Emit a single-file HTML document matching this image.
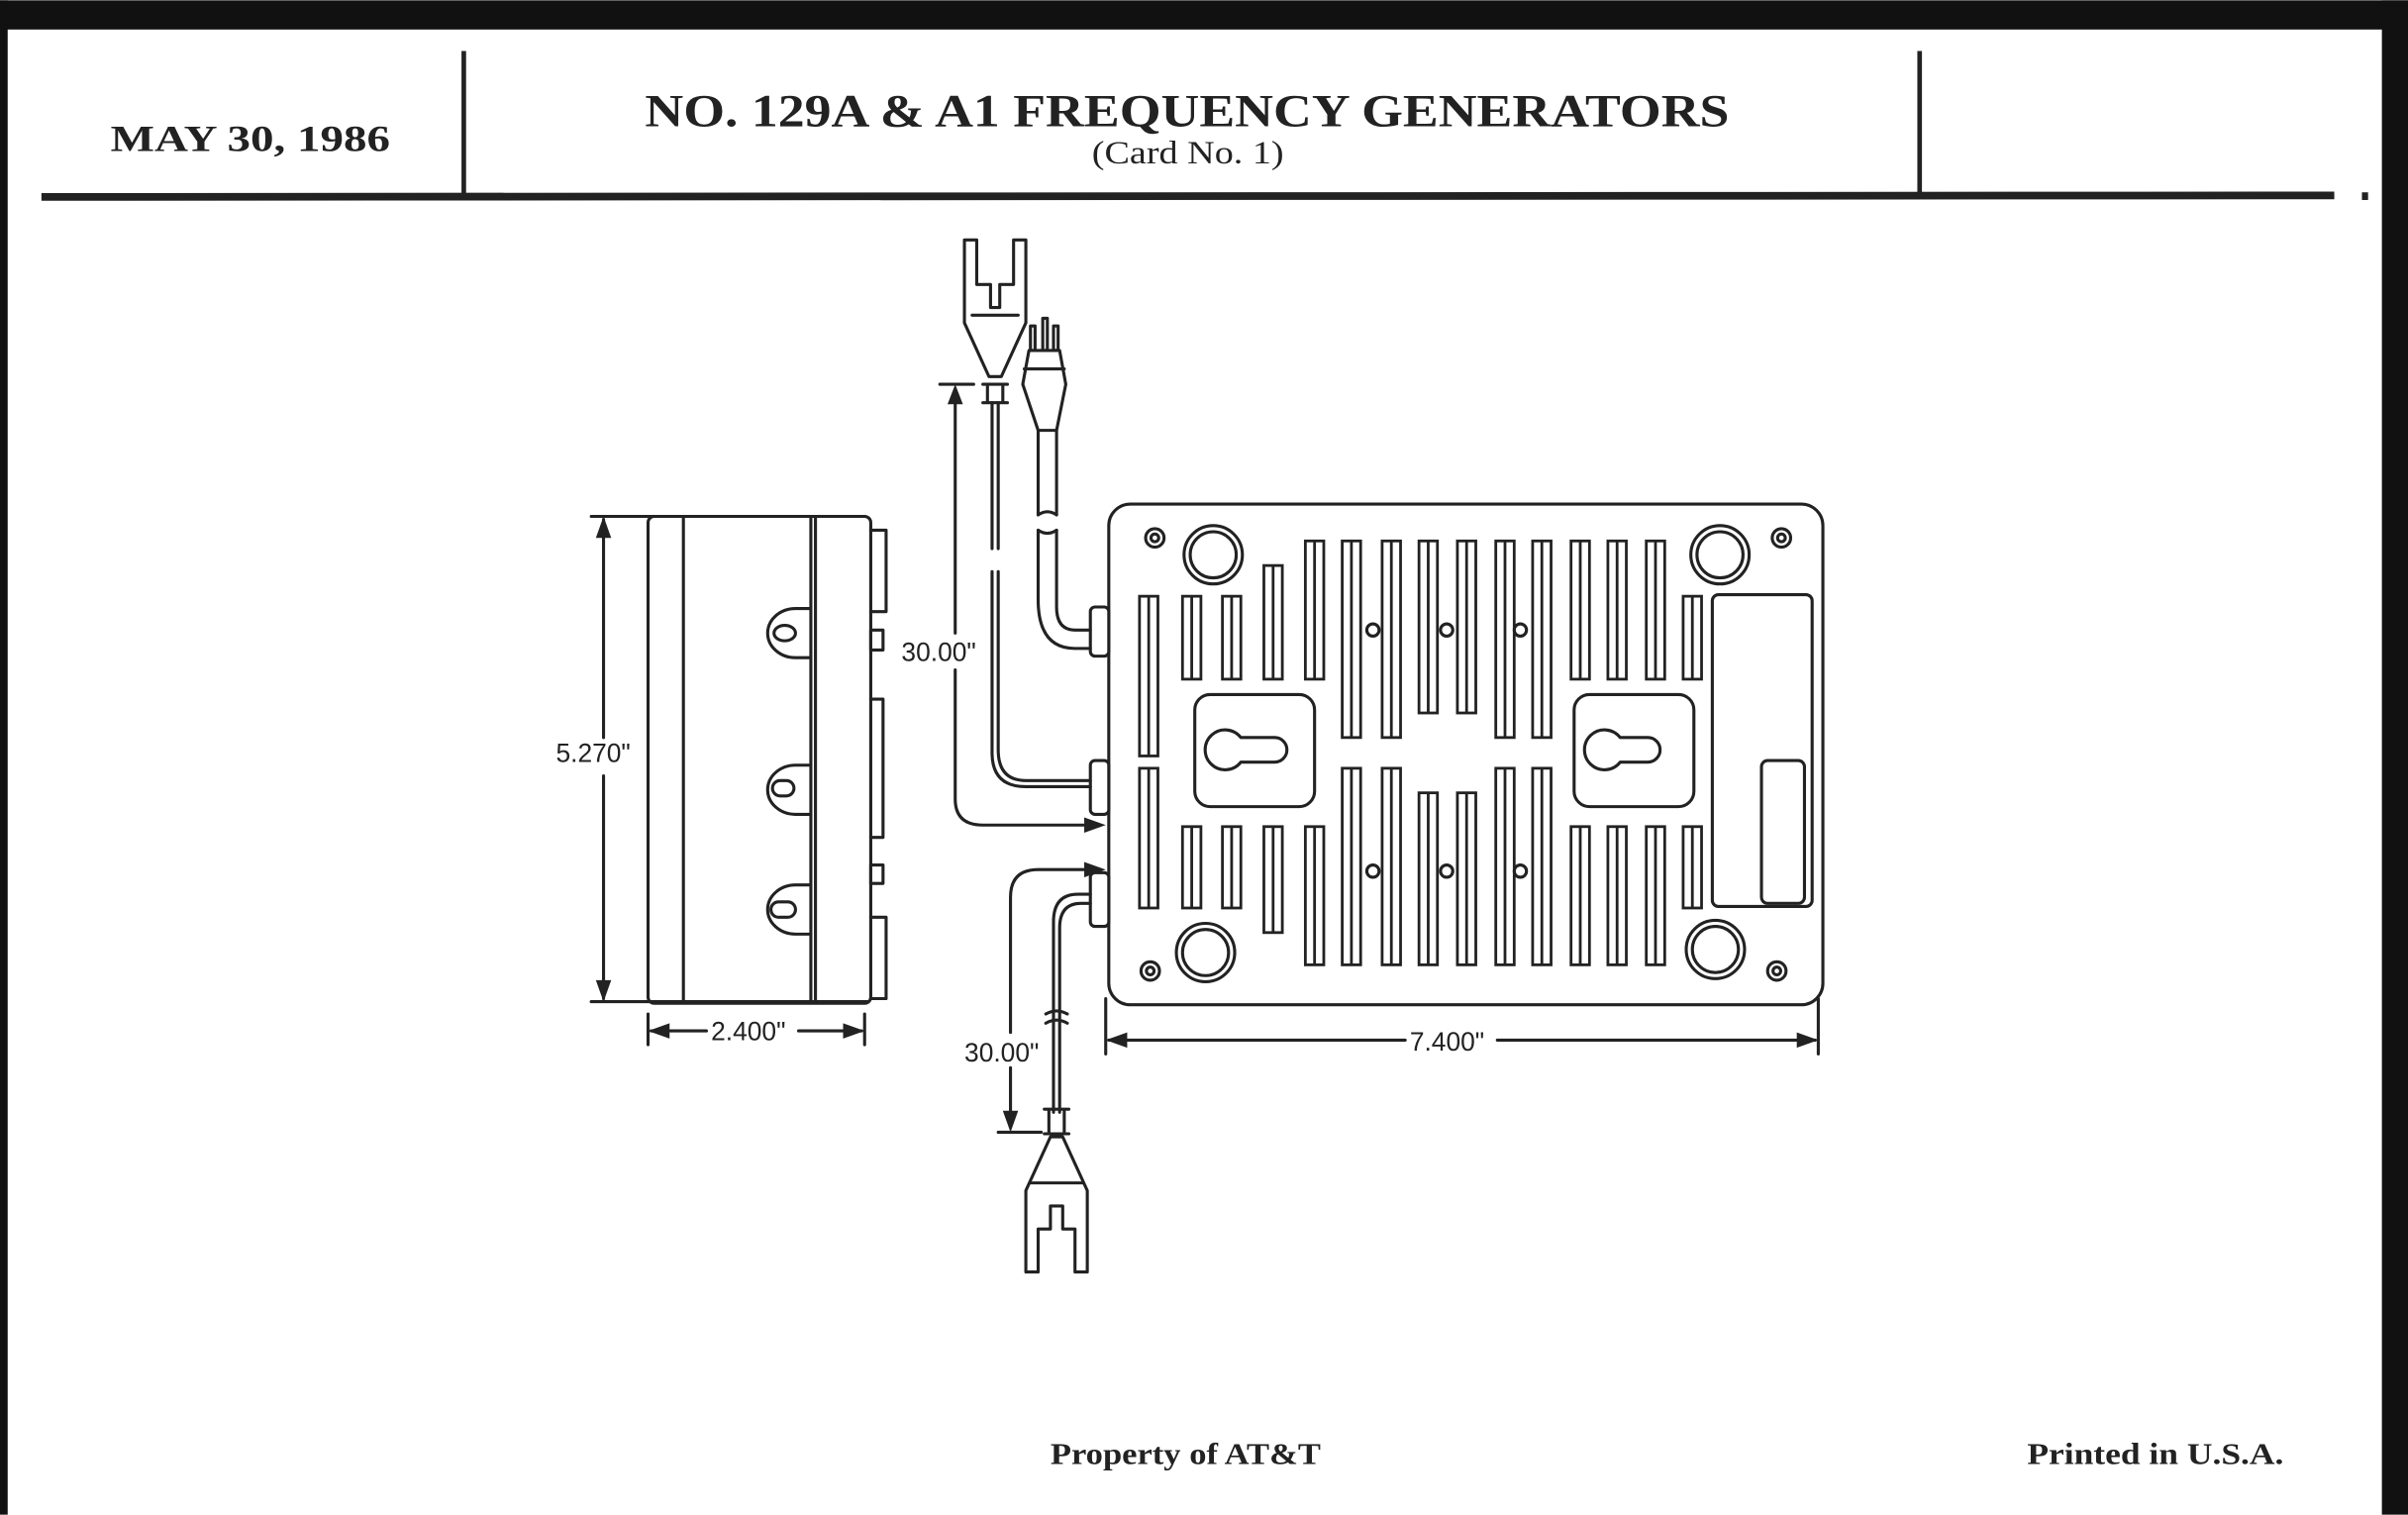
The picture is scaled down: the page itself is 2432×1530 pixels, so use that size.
<!DOCTYPE html>
<html><head><meta charset="utf-8"><style>
html,body{margin:0;padding:0;background:#fff;}
svg{display:block;}
</style></head><body>
<svg width="2432" height="1530" viewBox="0 0 1568 986" xmlns="http://www.w3.org/2000/svg">
<rect x="0" y="0" width="1568" height="986" fill="#fff"/>
<rect x="0" y="0" width="1568" height="19" fill="#111"/>
<rect x="0" y="0" width="5" height="986" fill="#111"/>
<rect x="1551" y="0" width="17" height="986" fill="#111"/>
<rect x="1538" y="125" width="4" height="5" fill="#222"/>
<!-- header -->
<g stroke="#222" fill="none">
<line x1="302" y1="33" x2="302" y2="127" stroke-width="3"/>
<line x1="1250" y1="33" x2="1250" y2="125" stroke-width="3"/>
<line x1="27" y1="128" x2="1520" y2="127" stroke-width="5"/>
</g>
<g font-family="'Liberation Serif',serif" font-weight="bold" fill="#222">
<text x="72" y="98" font-size="24" textLength="182" lengthAdjust="spacingAndGlyphs">MAY 30, 1986</text>
<text x="420" y="82" font-size="30" textLength="706" lengthAdjust="spacingAndGlyphs">NO. 129A &amp; A1 FREQUENCY GENERATORS</text>
<text x="711" y="106" font-size="21" font-weight="normal" textLength="125" lengthAdjust="spacingAndGlyphs">(Card No. 1)</text>
<text x="684" y="953" font-size="20" textLength="176" lengthAdjust="spacingAndGlyphs">Property of AT&amp;T</text>
<text x="1320" y="953" font-size="20" textLength="167" lengthAdjust="spacingAndGlyphs">Printed in U.S.A.</text>
</g>

<g stroke="#222" stroke-width="2" fill="none" stroke-linecap="round" stroke-linejoin="round">
<!-- side view -->
<rect x="422" y="336" width="145" height="317" rx="4"/>
<line x1="445" y1="337" x2="445" y2="652"/>
<line x1="528" y1="337" x2="528" y2="652"/>
<line x1="531" y1="337" x2="531" y2="652"/>
<path d="M567 345 H577 V398 H567"/>
<path d="M567 455 H575 V545 H567"/>
<path d="M567 597 H577 V650 H567"/>
<rect x="567" y="410" width="8" height="13" fill="#fff"/>
<rect x="567" y="563" width="8" height="12" fill="#fff"/>
<path d="M528 396 H518 A17 15 0 1 0 518 428 H528"/>
<ellipse cx="511" cy="412" rx="7" ry="5"/>
<path d="M528 498 H518 A17 15 0 1 0 518 530 H528"/>
<rect x="503" y="508" width="14" height="10" rx="5"/>
<path d="M528 576 H518 A17 15 0 1 0 518 608 H528"/>
<rect x="502" y="587" width="16" height="10" rx="5"/>
<!-- dims side -->
<line x1="385" y1="336" x2="432" y2="336"/>
<line x1="385" y1="652" x2="565" y2="652"/>
<line x1="393" y1="338" x2="393" y2="480"/>
<line x1="393" y1="505" x2="393" y2="650"/>
<line x1="422" y1="660" x2="422" y2="680"/>
<line x1="563" y1="660" x2="563" y2="680"/>
<line x1="424" y1="671" x2="460" y2="671"/>
<line x1="520" y1="671" x2="561" y2="671"/>
<!-- main box -->
<rect x="722" y="328" width="465" height="326" rx="14"/>
<!-- tabs -->
<rect x="710" y="395" width="12" height="32" rx="3" fill="#fff"/>
<rect x="710" y="495" width="12" height="35" rx="3" fill="#fff"/>
<rect x="710" y="568" width="12" height="35" rx="3" fill="#fff"/>
<!-- corner holes -->
<circle cx="790" cy="361" r="19"/><circle cx="790" cy="361" r="15"/>
<circle cx="1120" cy="361" r="19"/><circle cx="1120" cy="361" r="15"/>
<circle cx="785" cy="620" r="19"/><circle cx="785" cy="620" r="15"/>
<circle cx="1117" cy="618" r="19"/><circle cx="1117" cy="618" r="15"/>
<circle cx="752" cy="350" r="6"/><circle cx="752" cy="350" r="2.5"/>
<circle cx="1160" cy="350" r="6"/><circle cx="1160" cy="350" r="2.5"/>
<circle cx="749" cy="632" r="6"/><circle cx="749" cy="632" r="2.5"/>
<circle cx="1157" cy="632" r="6"/><circle cx="1157" cy="632" r="2.5"/>
<!-- keyhole squares -->
<rect x="778" y="452" width="78" height="73" rx="10"/>
<rect x="1025" y="452" width="78" height="73" rx="10"/>
<path d="M808 480 A13 13 0 1 0 808 496 H830 A8 8 0 0 0 830 480 Z"/>
<path d="M1055 480 A13 13 0 1 0 1055 496 H1073 A8 8 0 0 0 1073 480 Z"/>
<!-- right rects -->
<rect x="1115" y="387" width="65" height="203" rx="4"/>
<rect x="1147" y="495" width="28" height="93" rx="4"/>
<!-- dots -->
<circle cx="894" cy="410" r="4"/><circle cx="942" cy="410" r="4"/><circle cx="990" cy="410" r="4"/>
<circle cx="894" cy="567" r="4"/><circle cx="942" cy="567" r="4"/><circle cx="990" cy="567" r="4"/>
</g>
<!-- slots -->
<g stroke="#222" stroke-width="1.8" fill="none">
<rect x="742" y="388" width="12" height="104"/><line x1="748" y1="388" x2="748" y2="492"/>
<rect x="770" y="388" width="12" height="54"/><line x1="776" y1="388" x2="776" y2="442"/>
<rect x="796" y="388" width="12" height="54"/><line x1="802" y1="388" x2="802" y2="442"/>
<rect x="823" y="368" width="12" height="74"/><line x1="829" y1="368" x2="829" y2="442"/>
<rect x="850" y="352" width="12" height="90"/><line x1="856" y1="352" x2="856" y2="442"/>
<rect x="874" y="352" width="12" height="128"/><line x1="880" y1="352" x2="880" y2="480"/>
<rect x="900" y="352" width="12" height="128"/><line x1="906" y1="352" x2="906" y2="480"/>
<rect x="924" y="352" width="12" height="112"/><line x1="930" y1="352" x2="930" y2="464"/>
<rect x="949" y="352" width="12" height="112"/><line x1="955" y1="352" x2="955" y2="464"/>
<rect x="974" y="352" width="12" height="128"/><line x1="980" y1="352" x2="980" y2="480"/>
<rect x="998" y="352" width="12" height="128"/><line x1="1004" y1="352" x2="1004" y2="480"/>
<rect x="1023" y="352" width="12" height="90"/><line x1="1029" y1="352" x2="1029" y2="442"/>
<rect x="1047" y="352" width="12" height="90"/><line x1="1053" y1="352" x2="1053" y2="442"/>
<rect x="1072" y="352" width="12" height="90"/><line x1="1078" y1="352" x2="1078" y2="442"/>
<rect x="1096" y="388" width="12" height="54"/><line x1="1102" y1="388" x2="1102" y2="442"/>

<rect x="742" y="500" width="12" height="91"/><line x1="748" y1="500" x2="748" y2="591"/>
<rect x="770" y="538" width="12" height="53"/><line x1="776" y1="538" x2="776" y2="591"/>
<rect x="796" y="538" width="12" height="53"/><line x1="802" y1="538" x2="802" y2="591"/>
<rect x="823" y="538" width="12" height="69"/><line x1="829" y1="538" x2="829" y2="607"/>
<rect x="850" y="538" width="12" height="90"/><line x1="856" y1="538" x2="856" y2="628"/>
<rect x="874" y="500" width="12" height="128"/><line x1="880" y1="500" x2="880" y2="628"/>
<rect x="900" y="500" width="12" height="128"/><line x1="906" y1="500" x2="906" y2="628"/>
<rect x="924" y="516" width="12" height="112"/><line x1="930" y1="516" x2="930" y2="628"/>
<rect x="949" y="516" width="12" height="112"/><line x1="955" y1="516" x2="955" y2="628"/>
<rect x="974" y="500" width="12" height="128"/><line x1="980" y1="500" x2="980" y2="628"/>
<rect x="998" y="500" width="12" height="128"/><line x1="1004" y1="500" x2="1004" y2="628"/>
<rect x="1023" y="538" width="12" height="90"/><line x1="1029" y1="538" x2="1029" y2="628"/>
<rect x="1047" y="538" width="12" height="90"/><line x1="1053" y1="538" x2="1053" y2="628"/>
<rect x="1072" y="538" width="12" height="90"/><line x1="1078" y1="538" x2="1078" y2="628"/>
<rect x="1096" y="538" width="12" height="53"/><line x1="1102" y1="538" x2="1102" y2="591"/>
</g>

<g stroke="#222" stroke-width="2" fill="none" stroke-linecap="round" stroke-linejoin="round">
<!-- 7.400 dim -->
<line x1="720" y1="650" x2="720" y2="686"/>
<line x1="1184" y1="650" x2="1184" y2="686"/>
<line x1="722" y1="677" x2="915" y2="677"/>
<line x1="975" y1="677" x2="1182" y2="677"/>
<!-- power cord -->
<path d="M676 280 V335 M688 280 V335"/>
<path d="M676 345 V390 Q676 422 700 422 H710 M688 345 V395 Q688 410 700 410 H710"/>
<path d="M676 335 Q682 331 688 335 M676 345 Q682 349 688 345"/>
<path d="M670 228 L666 250 L676 280 H688 L694 250 L690 228 Z"/>
<path d="M667 240 H693"/>
<rect x="671" y="212" width="3" height="16"/><rect x="679" y="207" width="3" height="21"/><rect x="686" y="212" width="3" height="16"/>
<!-- top T-plug -->
<path d="M628 156 V210 L644 245 H652 L668 210 V156 H660 V185 H651 V200 H645 V185 H636 V156 Z"/>
<path d="M633 205 H663"/>
<path d="M640 250 H656 M640 262 H656 M643 250 V262 M653 250 V262"/>
<path d="M646 262 V357 M650 262 V357"/>
<path d="M646 372 V490 Q646 512 668 512 H710 M650 372 V488 Q650 508 668 508 H710"/>
<!-- 30.00 top dim -->
<line x1="612" y1="250" x2="634" y2="250"/>
<line x1="622" y1="258" x2="622" y2="412"/>
<path d="M622 436 V520 Q622 537 640 537 H710"/>
<!-- bottom dim -->
<path d="M710 566 H676 Q658 566 658 584 V672"/>
<line x1="658" y1="695" x2="658" y2="728"/>
<line x1="650" y1="737" x2="678" y2="737"/>
<!-- bottom cord -->
<path d="M710 582 H702 Q686 582 686 600 V724 M710 588 H704 Q690 588 690 604 V724"/>
<path d="M681 660 Q688 656 695 660 M681 666 Q688 662 695 666"/>
<path d="M680 722 H696 M680 738 H696 M683 722 V738 M693 722 V738"/>
<path d="M684 740 L668 775 V828 H676 V800 H684 V785 H692 V800 H700 V828 H708 V775 L692 740 Z"/>
<path d="M671 770 H705"/>
</g>
<g fill="#222">
<path d="M393 336 L388 350 H398 Z"/>
<path d="M393 652 L388 638 H398 Z"/>
<path d="M422 671 L436 666 V676 Z"/>
<path d="M563 671 L549 666 V676 Z"/>
<path d="M720 677 L734 672 V682 Z"/>
<path d="M1184 677 L1170 672 V682 Z"/>
<path d="M622 250 L617 263 H627 Z"/>
<path d="M720 537 L706 532 V542 Z"/>
<path d="M720 566 L706 561 V571 Z"/>
<path d="M658 737 L653 723 H663 Z"/>
</g>
<g font-family="'Liberation Sans',sans-serif" font-size="17" fill="#222">
<text x="362" y="496">5.270"</text>
<text x="463" y="677">2.400"</text>
<text x="918" y="684">7.400"</text>
<text x="587" y="430">30.00"</text>
<text x="628" y="691">30.00"</text>
</g>
</svg>
</body></html>
